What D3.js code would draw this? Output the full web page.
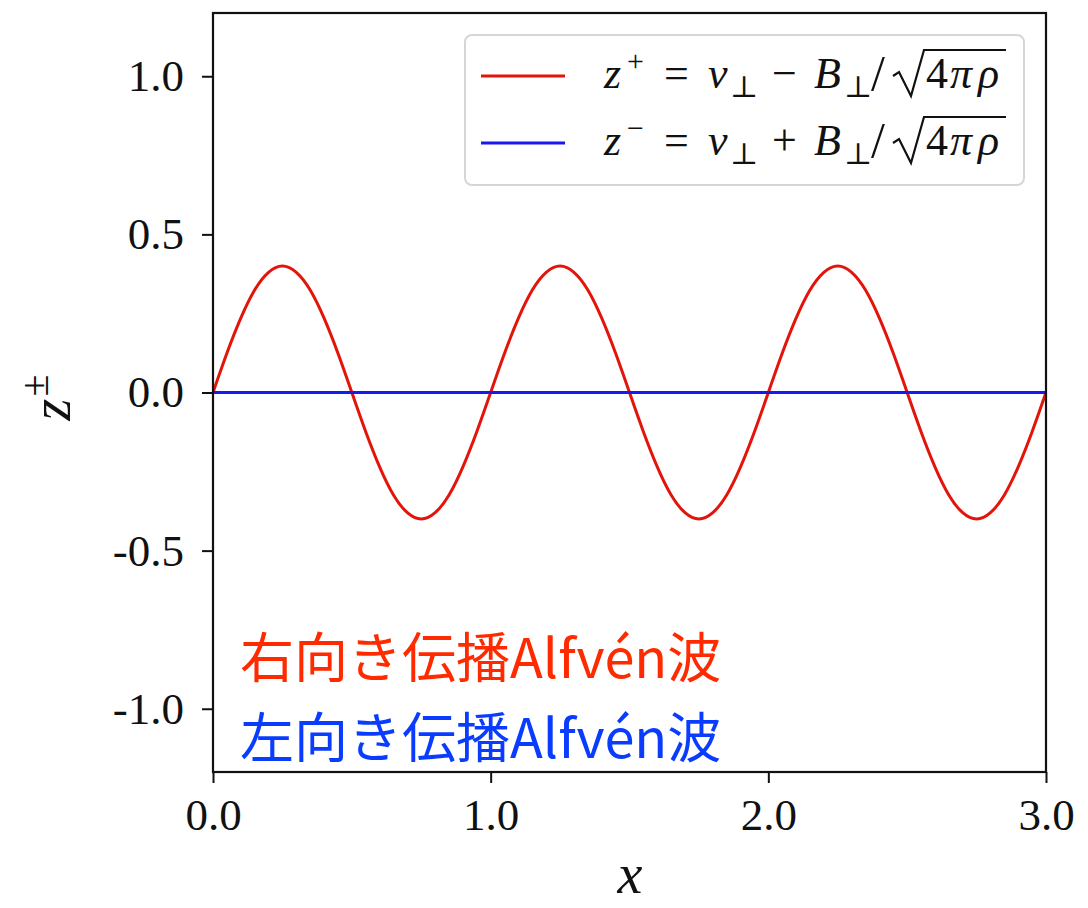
<!DOCTYPE html>
<html>
<head>
<meta charset="utf-8">
<script src="https://cdn.jsdelivr.net/npm/d3@7"></script>
<style>
  html, body { margin: 0; padding: 0; background: #fff; }
  svg { display: block; }
</style>
</head>
<body>
<svg id="chart" width="1088" height="908"></svg>
<script>
// ---- data ----
const xSamples = [
  0.00,0.05,0.10,0.15,0.20,0.25,0.30,0.35,0.40,0.45,
  0.50,0.55,0.60,0.65,0.70,0.75,0.80,0.85,0.90,0.95,
  1.00,1.05,1.10,1.15,1.20,1.25,1.30,1.35,1.40,1.45,
  1.50,1.55,1.60,1.65,1.70,1.75,1.80,1.85,1.90,1.95,
  2.00,2.05,2.10,2.15,2.20,2.25,2.30,2.35,2.40,2.45,
  2.50,2.55,2.60,2.65,2.70,2.75,2.80,2.85,2.90,2.95,
  3.00
];
const zPlus = [
  0.000,0.124,0.235,0.324,0.380,0.400,0.380,0.324,0.235,0.124,
  0.000,-0.124,-0.235,-0.324,-0.380,-0.400,-0.380,-0.324,-0.235,-0.124,
  0.000,0.124,0.235,0.324,0.380,0.400,0.380,0.324,0.235,0.124,
  0.000,-0.124,-0.235,-0.324,-0.380,-0.400,-0.380,-0.324,-0.235,-0.124,
  0.000,0.124,0.235,0.324,0.380,0.400,0.380,0.324,0.235,0.124,
  0.000,-0.124,-0.235,-0.324,-0.380,-0.400,-0.380,-0.324,-0.235,-0.124,
  0.000
];
const zMinus = [
  0,0,0,0,0,0,0,0,0,0, 0,0,0,0,0,0,0,0,0,0,
  0,0,0,0,0,0,0,0,0,0, 0,0,0,0,0,0,0,0,0,0,
  0,0,0,0,0,0,0,0,0,0, 0,0,0,0,0,0,0,0,0,0,
  0
];
const xTicks = [0, 1, 2, 3];
const xTickLabels = ["0.0", "1.0", "2.0", "3.0"];
const yTicks = [-1.0, -0.5, 0.0, 0.5, 1.0];
const yTickLabels = ["-1.0", "-0.5", "0.0", "0.5", "1.0"];
const xDomain = [0, 3];
const yDomain = [-1.2, 1.2];
const annotations = ["右向き伝播Alfvén波", "左向き伝播Alfvén波"];

// ---- layout ----
const svg = d3.select("#chart");
const L = 213, R = 1046, T = 13, B = 772;
const serif = "'Liberation Serif', 'DejaVu Serif', serif";
const cjk = "'Noto Sans CJK JP', 'Noto Sans', sans-serif";

const x = d3.scaleLinear().domain(xDomain).range([L, R]);
const y = d3.scaleLinear().domain(yDomain).range([B, T]);

// lines
const line = d3.line().x(d => x(d[0])).y(d => y(d[1])).curve(d3.curveNatural);
const redData = xSamples.map((v, i) => [v, zPlus[i]]);
const blueData = xSamples.map((v, i) => [v, zMinus[i]]);

svg.append("clipPath").attr("id", "plotclip")
  .append("rect").attr("x", L).attr("y", T).attr("width", R - L).attr("height", B - T);

const plot = svg.append("g").attr("clip-path", "url(#plotclip)");
plot.append("path").datum(redData).attr("d", line)
  .attr("fill", "none").attr("stroke", "#e3140a").attr("stroke-width", 3);
plot.append("path").datum(blueData).attr("d", line)
  .attr("fill", "none").attr("stroke", "#1818f0").attr("stroke-width", 3);

// axes
const xAxis = d3.axisBottom(x).tickValues(xTicks)
  .tickFormat((d, i) => xTickLabels[i]).tickSize(11).tickPadding(15).tickSizeOuter(0);
const yAxis = d3.axisLeft(y).tickValues(yTicks)
  .tickFormat((d, i) => yTickLabels[i]).tickSize(11).tickPadding(18).tickSizeOuter(0);

const gx = svg.append("g").attr("transform", `translate(0,${B})`).call(xAxis);
const gy = svg.append("g").attr("transform", `translate(${L},0)`).call(yAxis);
[gx, gy].forEach(g => {
  g.select(".domain").remove();
  g.selectAll(".tick line").attr("stroke", "#111").attr("stroke-width", 2);
  g.selectAll(".tick text").attr("fill", "#111")
    .style("font-family", serif).style("font-size", "45px");
});

// frame
svg.append("rect").attr("x", L).attr("y", T).attr("width", R - L).attr("height", B - T)
  .attr("fill", "none").attr("stroke", "#111").attr("stroke-width", 2.2);

// axis labels
svg.append("text").attr("x", 630).attr("y", 893)
  .attr("text-anchor", "middle")
  .style("font-family", serif).style("font-style", "italic").style("font-size", "56px")
  .attr("fill", "#111").text("x");

const ylab = svg.append("text")
  .attr("transform", `translate(70,${(T + B) / 2 + 5}) rotate(-90)`)
  .attr("text-anchor", "middle")
  .style("font-family", serif).style("font-size", "56px").attr("fill", "#111");
ylab.append("tspan").style("font-style", "italic").text("z");
ylab.append("tspan").attr("dy", -22).attr("dx", 2).style("font-size", "40px").text("±");

// legend
const lg = svg.append("g");
lg.append("rect").attr("x", 465).attr("y", 35).attr("width", 559).attr("height", 150)
  .attr("rx", 7).attr("fill", "#fff").attr("fill-opacity", 0.85)
  .attr("stroke", "#d6d6d6").attr("stroke-width", 2);

const legendItems = [
  { color: "#e3140a", sup: "+", op: "−", y: 76 },
  { color: "#1818f0", sup: "−", op: "+", y: 143 }
];
legendItems.forEach(it => {
  lg.append("line").attr("x1", 481).attr("x2", 565).attr("y1", it.y).attr("y2", it.y)
    .attr("stroke", it.color).attr("stroke-width", 3);
  const base = it.y + 12;
  const g = lg.append("g").style("font-family", serif).attr("fill", "#111");
  const piece = (px, dy, txt, size, ital) => g.append("text")
    .attr("x", px).attr("y", base + dy)
    .style("font-size", size + "px").style("font-style", ital ? "italic" : "normal")
    .text(txt);
  piece(604, 0, "z", 44, true);
  piece(627, -17, it.sup, 30, false);
  piece(664, 0, "=", 44, false);
  piece(708, 0, "v", 44, true);
  piece(730, 9, "⊥", 30, false);
  piece(772, 0, it.op, 44, false);
  piece(814, 0, "B", 44, true);
  piece(844, 9, "⊥", 30, false);
  piece(871, 2, "/", 50, false);
  // radical sign
  g.append("path")
    .attr("d", `M893,${base - 12} L899,${base - 16} L911,${base + 8} L924,${base - 38} L1006,${base - 38}`)
    .attr("fill", "none").attr("stroke", "#111").attr("stroke-width", 2.2)
    .attr("stroke-linejoin", "miter");
  piece(926, 0, "4", 44, false);
  piece(950, 0, "π", 44, true);
  piece(978, 0, "ρ", 44, true);
});

// annotations
svg.append("text").attr("x", 240).attr("y", 678)
  .style("font-family", cjk).style("font-size", "54px").attr("fill", "#ff2a00")
  .text(annotations[0]);
svg.append("text").attr("x", 240).attr("y", 758)
  .style("font-family", cjk).style("font-size", "54px").attr("fill", "#0a3cff")
  .text(annotations[1]);
</script>
</body>
</html>
